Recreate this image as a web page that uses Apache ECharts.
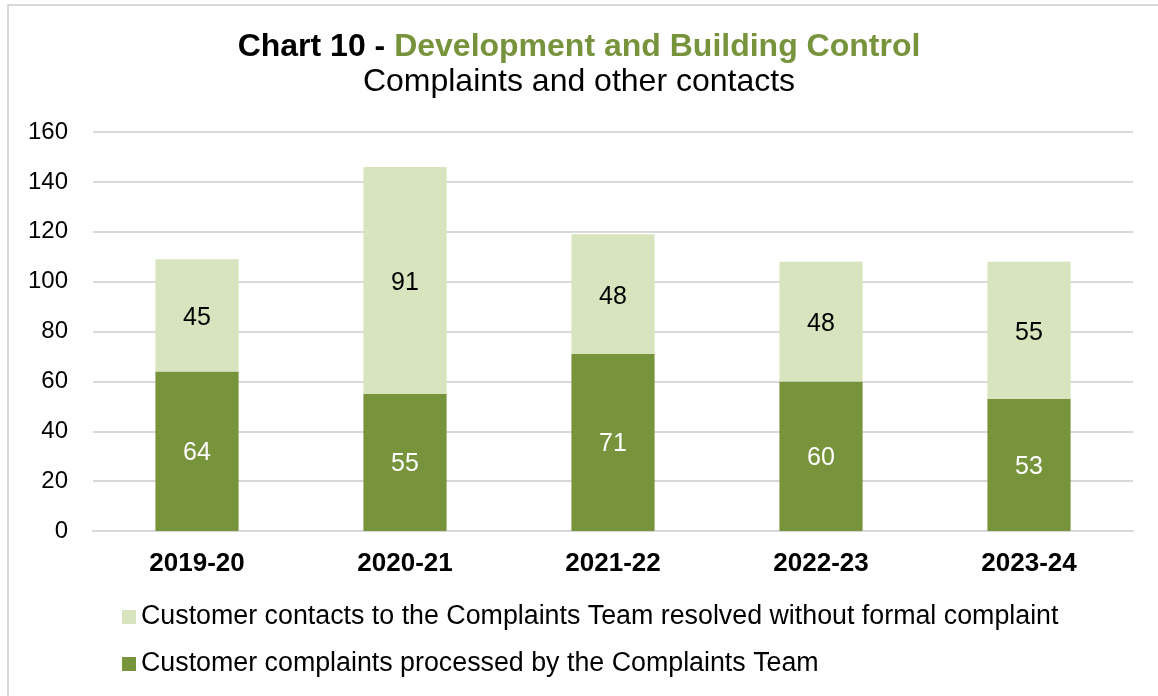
<!DOCTYPE html>
<html>
<head>
<meta charset="utf-8">
<script src="https://cdn.jsdelivr.net/npm/echarts@6/dist/echarts.min.js"></script>
<style>
  html, body { margin: 0; padding: 0; background: #fff; overflow: hidden; }
  #chart { position: absolute; left: 0; top: 0; width: 1158px; height: 696px; }
  #frame { position: absolute; left: 7px; top: 4px; width: 1170px; height: 710px;
           border: 2px solid #d9d9d9; pointer-events: none; }
</style>
</head>
<body>
<div id="chart"></div>
<div id="frame"></div>
<script>
// 数据
const years = ['2019-20', '2020-21', '2021-22', '2022-23', '2023-24'];
const complaints = [64, 55, 71, 60, 53];
const contacts = [45, 91, 48, 48, 55];
const nameContacts = 'Customer contacts to the Complaints Team resolved without formal complaint';
const nameComplaints = 'Customer complaints processed by the Complaints Team';

const font = "'Liberation Sans', Arial, sans-serif";
const darkGreen = '#77933C';
const lightGreen = '#D7E4BD';

const chart = echarts.init(document.getElementById('chart'));
const option = {
    animation: false,
    textStyle: { fontFamily: font },
    title: [
        {
            text: '{a|Chart 10 - }{b|Development and Building Control}',
            left: 'center',
            top: 26,
            textStyle: {
                rich: {
                    a: { fontFamily: font, fontSize: 32, fontWeight: 'bold', color: '#000' },
                    b: { fontFamily: font, fontSize: 32, fontWeight: 'bold', color: darkGreen }
                }
            }
        },
        {
            text: 'Complaints and other contacts',
            left: 'center',
            top: 61,
            textStyle: { fontFamily: font, fontSize: 32, fontWeight: 'normal', color: '#000' }
        }
    ],
    legend: [
        {
            data: [nameContacts],
            left: 122,
            top: 602,
            padding: 0,
            itemWidth: 14,
            itemHeight: 14,
            icon: 'rect',
            textStyle: { fontFamily: font, fontSize: 26.8, color: '#000', lineHeight: 30 }
        },
        {
            data: [nameComplaints],
            left: 122,
            top: 649,
            padding: 0,
            itemWidth: 14,
            itemHeight: 14,
            icon: 'rect',
            textStyle: { fontFamily: font, fontSize: 26.8, color: '#000', lineHeight: 30 }
        }
    ],
    grid: {
        left: 93,
        right: 25,
        top: 132,
        bottom: 165
    },
    xAxis: {
        type: 'category',
        data: years,
        axisTick: { show: false },
        axisLine: { lineStyle: { color: '#d9d9d9', width: 2 } },
        axisLabel: {
            fontFamily: font,
            fontSize: 26,
            fontWeight: 'bold',
            color: '#000',
            margin: 20
        }
    },
    yAxis: {
        type: 'value',
        min: 0,
        max: 160,
        interval: 20,
        axisLine: { show: false },
        axisTick: { show: false },
        splitLine: { lineStyle: { color: '#d9d9d9', width: 2 } },
        axisLabel: {
            fontFamily: font,
            fontSize: 24,
            color: '#000',
            margin: 25
        }
    },
    series: [
        {
            name: nameComplaints,
            type: 'bar',
            stack: 'total',
            barWidth: '40%',
            data: complaints,
            itemStyle: { color: darkGreen },
            label: {
                show: true,
                position: 'inside',
                offset: [0, 2],
                fontFamily: font,
                fontSize: 25,
                color: '#fff'
            }
        },
        {
            name: nameContacts,
            type: 'bar',
            stack: 'total',
            barWidth: '40%',
            data: contacts,
            itemStyle: { color: lightGreen },
            label: {
                show: true,
                position: 'inside',
                offset: [0, 3],
                fontFamily: font,
                fontSize: 25,
                color: '#000'
            }
        }
    ]
};
chart.setOption(option);
</script>
</body>
</html>
